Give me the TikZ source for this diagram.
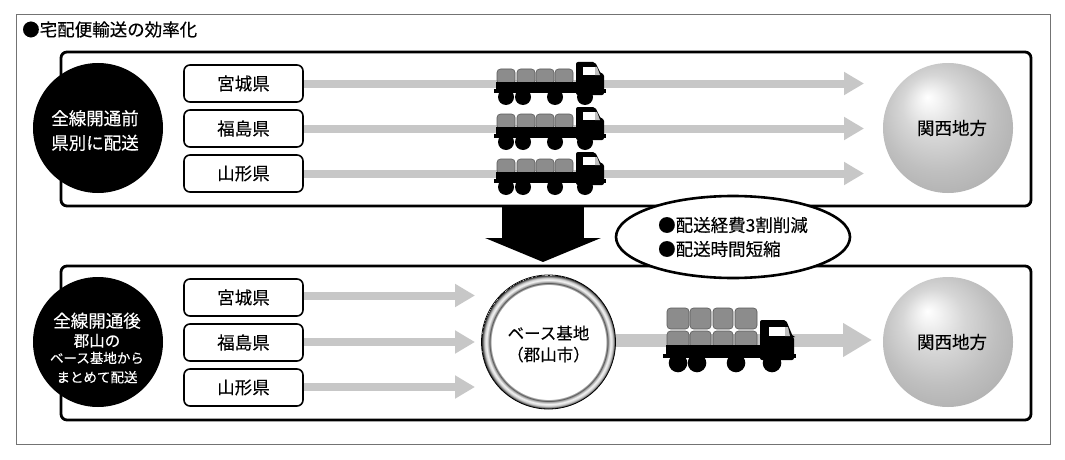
\documentclass[tikz,border=0pt]{standalone}
\usepackage{fontspec}
\setmainfont{Noto Sans CJK JP}[RawFeature={embolden=0.25}]
\usetikzlibrary{shapes.geometric,arrows.meta}
\pgfdeclareradialshading{spherefill}{\pgfpoint{-8bp}{12bp}}{
  color(0bp)=(white);
  color(4bp)=(white!95!black);
  color(12bp)=(white!84!black);
  color(22bp)=(white!75!black);
  color(31bp)=(white!69!black);
  color(36bp)=(white!64!black);
  color(40bp)=(white!72!black)}
\pgfdeclareradialshading{ringfill}{\pgfpointorigin}{
  color(0bp)=(white);
  color(21.5bp)=(white);
  color(21.8bp)=(black!80);
  color(22.4bp)=(black!35);
  color(23.1bp)=(black!5);
  color(23.8bp)=(black!15);
  color(24.4bp)=(black!50);
  color(25bp)=(black!90)}
\newcommand{\fsz}[2][1.2]{\fontsize{#2}{#2}\selectfont}
\tikzset{
  x=1pt,y=-1pt,
  outerframe/.style={draw=black!55,line width=1pt,fill=white,minimum width=1034pt,minimum height=429pt,inner sep=0pt},
  panel/.style={draw=black,line width=2.8pt,rounded corners=6pt,minimum width=970pt,minimum height=154pt,inner sep=0pt},
  blackdisc/.style={circle,fill=black,minimum size=130pt,inner sep=0pt},
  disctext/.style={text=white,inner sep=0pt,align=center},
  provbox/.style={draw=black,line width=1.6pt,rounded corners=6pt,fill=white,minimum width=119pt,minimum height=37pt,inner sep=0pt,font=\fsz{17.5}},
  spherenode/.style={circle,shading=spherefill,minimum size=130pt,inner sep=0pt},
  ringnode/.style={circle,shading=ringfill,draw=black,line width=.8pt,minimum size=134pt,inner sep=0pt},
  noteellipse/.style={ellipse,draw=black,line width=2.6pt,fill=white,minimum width=234pt,minimum height=82pt,inner sep=0pt,align=left,font=\fsz{17.5}},
  flowarrow/.style={draw=black!22,line width=8pt,-{Triangle[length=20pt,width=22pt,black!22]}},
  bigflow/.style={draw=black!22,line width=13pt,-{Triangle[length=29pt,width=32pt,black!22]}},
  downarrow/.style={draw=black,line width=82pt,-{Triangle[length=24pt,width=115pt,black]}},
  bale/.style={draw=black!65,line width=.6pt,fill=black!45,rounded corners=3.5pt},
  smalltruck/.pic={
    \foreach \a/\b in {3/21,23/41,42/60,61/79}
      \draw[bale] (\a,-14) rectangle (\b,1);
    \fill[black] (2,-1) rectangle (84,10);
    \fill[black] (0,6) rectangle (112,9.5);
    \fill[black,rounded corners=2pt] (82,12) -- (82,-21) -- (101,-21) -- (107,-9) -- (110,-9) -- (110,12) -- cycle;
    \fill[white] (89,-16) rectangle (101,-8);
    \fill[black!25] (101,-16) -- (103,-16) -- (106,-8) -- (101,-8) -- cycle;
    \foreach \a in {12,29,61,91}
      \fill[black] (\a,14) circle[radius=8];
  },
  bigtruck/.pic={
    \foreach \a/\b in {4/26,27/48,50/70,72/94}{
      \draw[bale] (\a,-32) rectangle (\b,-11);
      \draw[bale] (\a,-9) rectangle (\b,8);
    }
    \fill[black] (3,5) rectangle (98,17);
    \fill[black] (0,14) rectangle (133,18);
    \fill[black,rounded corners=2pt] (97,20) -- (97,-20) -- (123,-20) -- (130,-3) -- (131,-3) -- (131,20) -- cycle;
    \fill[white] (106,-13) rectangle (122,-4);
    \fill[black!25] (122,-13) -- (125,-13) -- (127,-4) -- (122,-4) -- cycle;
    \foreach \a in {15,34,73,109}
      \fill[black] (\a,23) circle[radius=9.3];
  },
}
\begin{document}
\begin{tikzpicture}
\useasboundingbox (0,0) rectangle (1065,460);
\fill[white] (0,0) rectangle (1065,460);
\node[outerframe] (outer) at (533,229.5) {};
\node[anchor=west,inner sep=0pt,font=\fsz{17.5}] (title) at (22,29.5) {●宅配便輸送の効率化};
\node[panel] (upper) at (546,129) {};
\node[panel] (lower) at (546,343) {};
% upper panel
\node[blackdisc] (before) at (98,128) {};
\node[disctext,font=\fsz{17.5}] (beforetext) at (95,130.5) {全線開通前\\[7pt]県別に配送};
\node[provbox] (u1) at (243.5,83.5) {宮城県};
\node[provbox] (u2) at (243.5,128.5) {福島県};
\node[provbox] (u3) at (243.5,173.5) {山形県};
\node[spherenode] (kansaiU) at (948,128) {};
\node[inner sep=0pt,font=\fsz{17.5}] (kansaiUtext) at (952,128) {関西地方};
\coordinate (tipu1) at (864,83.5);
\coordinate (tipu2) at (864,128.5);
\coordinate (tipu3) at (864,173.5);
\draw[flowarrow] (u1.east) -- (tipu1);
\draw[flowarrow] (u2.east) -- (tipu2);
\draw[flowarrow] (u3.east) -- (tipu3);
\pic at (494,83) {smalltruck};
\pic at (494,128) {smalltruck};
\pic at (494,173) {smalltruck};
% lower panel
\node[blackdisc] (after) at (98,342) {};
\node[disctext] (aftertext) at (97,348) {\fsz{17.5}全線開通後\\[4pt]\fsz{15.5}郡山の\\[3pt]\fsz{13.5}ベース基地から\\[6pt]\fsz{13.5}まとめて配送};
\node[provbox] (l1) at (243.5,297.5) {宮城県};
\node[provbox] (l2) at (243.5,342.5) {福島県};
\node[provbox] (l3) at (243.5,387.5) {山形県};
\node[ringnode] (base) at (548.5,342) {};
\node[inner sep=0pt,align=center,font=\fsz{16.5}] (basetext) at (548.5,344) {ベース基地\\[5pt]（郡山市）};
\node[spherenode] (kansaiL) at (948,342) {};
\node[inner sep=0pt,font=\fsz{17.5}] (kansaiLtext) at (952,342) {関西地方};
\coordinate (tipl1) at (475,295.5);
\coordinate (tipl2) at (475,342);
\coordinate (tipl3) at (475,387);
\coordinate (tipbase) at (872,340);
\draw[flowarrow] (l1.east |- tipl1) -- (tipl1);
\draw[flowarrow] (l2.east |- tipl2) -- (tipl2);
\draw[flowarrow] (l3.east |- tipl3) -- (tipl3);
\draw[bigflow] (base.east |- tipbase) -- (tipbase);
\pic at (663,340) {bigtruck};
% transition
\coordinate (downA) at (543,206);
\coordinate (downB) at (543,262);
\draw[downarrow] (downA) -- (downB);
\node[noteellipse] (note) at (733,237) {●配送経費3割削減\\[6.5pt]●配送時間短縮};
\end{tikzpicture}
\end{document}
